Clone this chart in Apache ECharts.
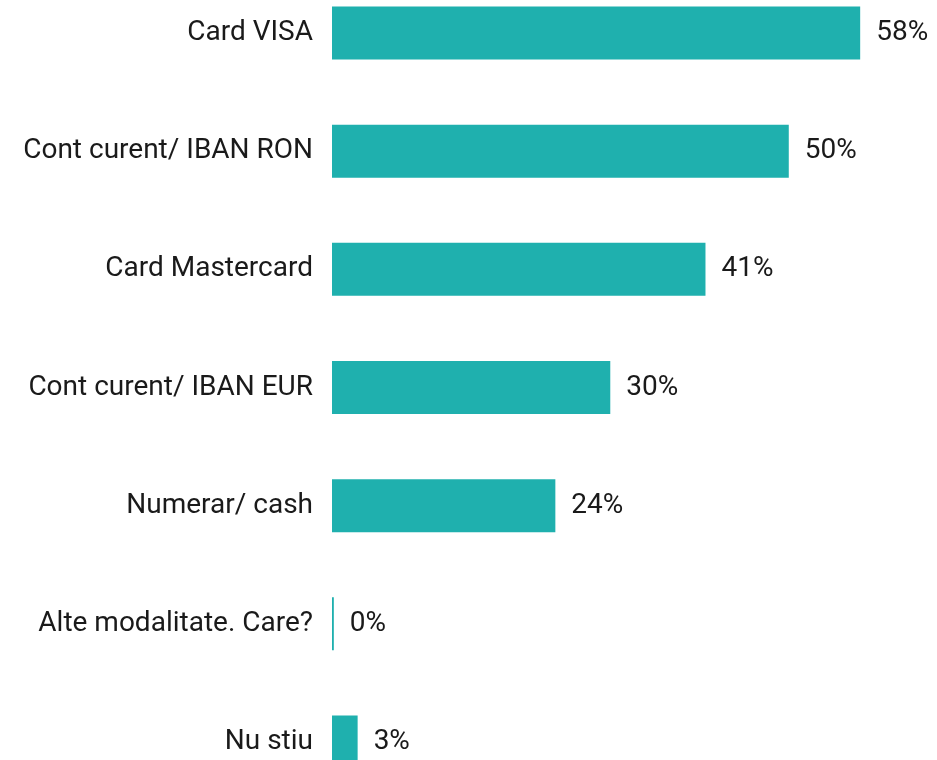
<!DOCTYPE html>
<html>
<head>
<meta charset="utf-8">
<script src="https://cdn.jsdelivr.net/npm/echarts@6/dist/echarts.min.js"></script>
<style>
html,body{margin:0;padding:0;background:#fff;overflow:hidden;width:937px;height:760px;}
#chart{position:absolute;left:0;top:-26px;width:937px;height:827px;}
</style>
</head>
<body>
<div id="chart"></div>
<script>
const categories = ["Card VISA", "Cont curent/ IBAN RON", "Card Mastercard", "Cont curent/ IBAN EUR", "Numerar/ cash", "Alte modalitate. Care?", "Nu stiu"];
const values = [57.7, 49.9, 40.8, 30.4, 24.4, 0.2, 2.8];

const chart = echarts.init(document.getElementById('chart'), null, {renderer: 'canvas'});
chart.setOption({
  animation: false,
  grid: {left: 332, right: 10, top: 0, bottom: 0, containLabel: false},
  xAxis: {type: 'value', min: 0, max: 65, show: false},
  yAxis: {
    type: 'category',
    data: categories,
    inverse: true,
    axisLine: {show: false},
    axisTick: {show: false},
    axisLabel: {
      margin: 19,
      fontFamily: 'Roboto',
      fontSize: 28,
      color: '#1a1a1a',
      padding: [4, 0, 0, 0]
    }
  },
  series: [{
    type: 'bar',
    data: values,
    barWidth: 53,
    itemStyle: {color: '#1FB0AE'},
    label: {
      show: true,
      position: 'right',
      distance: 16,
      fontFamily: 'Roboto',
      fontSize: 28,
      color: '#1a1a1a',
      padding: [4, 0, 0, 0],
      formatter: p => Math.round(p.value) + '%'
    }
  }]
});
</script>
</body>
</html>
